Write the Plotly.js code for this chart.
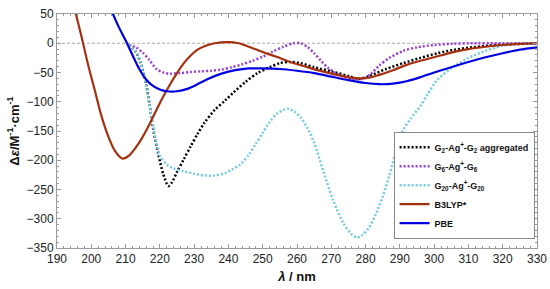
<!DOCTYPE html>
<html>
<head>
<meta charset="utf-8">
<script src="https://cdn.plot.ly/plotly-3.0.1.min.js"></script>
<style>
  html, body { margin: 0; padding: 0; background: #fff; }
  #chart { width: 550px; height: 289px; }
</style>
</head>
<body>
<div id="chart"></div>
<script>
// wavelengths (nm) and delta-epsilon values
const g2X = [211, 213, 214.5, 216, 217, 218, 219.5, 221, 222.5, 223.5, 225, 227, 229, 231, 233, 236, 239, 241.5, 245, 248.5, 252, 255, 258, 261, 265, 270, 275, 278, 281, 286, 291, 296, 301, 306, 311, 316, 321, 326, 330];
const g2Y = [-3, -15, -35, -70, -105, -145, -188, -224, -244, -238, -220, -198, -176, -155, -136, -114, -98, -84, -66, -51, -41, -34, -32, -34, -41, -48, -56, -61, -56, -44, -34, -25, -17, -11, -7, -4, -2, -1, 0];

const g6X = [211, 213, 215, 217, 219, 221, 223, 226, 229, 232, 235, 238, 241, 244, 247, 250, 253, 256, 259, 261, 263, 265, 267, 269, 271, 273, 276, 278, 280, 282, 284, 287, 291, 295, 300, 305, 310, 320, 330];
const g6Y = [-3, -7, -16, -29, -44, -50, -52, -51, -49, -48, -47, -45, -41, -36, -30, -23, -14, -6, 0, 0, -6, -17, -30, -42, -50, -56, -61, -62, -59, -50, -38, -25, -13, -7, -3, -1, 0, 0, 0];

const g20X = [211, 213, 215, 216.5, 218, 219, 220, 222, 224, 227, 230, 233, 236, 239, 241, 243.5, 246, 248, 250, 252, 254, 256, 257.5, 259, 261, 263, 265, 267.5, 270.5, 273.5, 276, 277.5, 279, 281, 283, 285, 287, 289, 291, 293, 296, 298, 301, 305, 310, 315, 320, 325, 330];
const g20Y = [-3, -14, -45, -90, -140, -172, -192, -207, -214, -219, -223, -226, -226, -222, -216, -207, -190, -172, -153, -135, -121, -114, -112, -116, -126, -145, -170, -215, -268, -307, -327, -332, -328, -315, -292, -262, -225, -182, -148, -130, -107, -88, -62, -43, -25, -13, -4, -1, 0];

const b3lypX = [195, 197, 199, 201, 203, 205, 207, 209, 211, 213, 215, 217, 219, 221, 223, 225, 227, 229, 231, 233, 236, 240, 243, 246, 250, 254, 258, 262, 266, 270, 274, 278, 281, 284, 288, 292, 296, 300, 305, 310, 315, 320, 325, 330];
const b3lypY = [62, 15, -35, -80, -125, -160, -185, -197, -192, -178, -160, -138, -114, -91, -70, -51, -34, -21, -11, -5, 0, 2, 0, -6, -15, -23, -32, -39, -46, -52, -57, -60, -59, -54, -46, -37, -30, -24, -16, -10, -6, -3, -1, 0];

const pbeX = [205.5, 208, 210, 212, 214, 216, 218, 220, 222, 225, 228, 231, 234, 238, 242, 246, 250, 255, 260, 265, 270, 275, 280, 284, 288, 292, 296, 300, 305, 310, 315, 320, 325, 330];
const pbeY = [61, 28, 5, -20, -44, -62, -73, -79, -82, -82, -78, -70, -61, -52, -46, -43, -43, -44, -47, -51, -57, -63, -68, -70, -69, -65, -58, -50, -41, -32, -24, -17, -11, -7];

const seriesNames = [
    '<b>G<sub>2</sub>-Ag<sup>+</sup>-G<sub>2</sub> aggregated</b>',
    '<b>G<sub>6</sub>-Ag<sup>+</sup>-G<sub>6</sub></b>',
    '<b>G<sub>20</sub>-Ag<sup>+</sup>-G<sub>20</sub></b>',
    '<b>B3LYP*</b>',
    '<b>PBE</b>'
];

const FONT = 'Liberation Sans, Arial, sans-serif';

function curve(x, y, name, color, dotted) {
    return {
        x: x,
        y: y,
        name: name,
        type: 'scatter',
        mode: 'lines',
        line: {
            color: color,
            width: dotted ? 2.5 : 2.2,
            dash: dotted ? '2px,2px' : 'solid',
            shape: 'spline',
            smoothing: 0.8
        },
        hoverinfo: 'skip'
    };
}

let traces = [
    curve(g2X, g2Y, seriesNames[0], '#000000', true),
    curve(g6X, g6Y, seriesNames[1], '#9a3fd6', true),
    curve(g20X, g20Y, seriesNames[2], '#72cbe3', true),
    curve(b3lypX, b3lypY, seriesNames[3], '#a5300f', false),
    curve(pbeX, pbeY, seriesNames[4], '#0000e0', false)
];

let axisCommon = {
    showline: true,
    linecolor: '#9a9a9a',
    linewidth: 1,
    mirror: 'ticks',
    ticks: 'inside',
    ticklen: 4,
    tickcolor: '#9a9a9a',
    showgrid: false,
    zeroline: false,
    tickfont: {family: FONT, size: 12, color: '#222'},
};

let layout = {
    width: 550,
    height: 289,
    margin: {l: 57, r: 13, t: 14, b: 41},
    paper_bgcolor: '#fff',
    plot_bgcolor: '#fff',
    showlegend: true,
    font: {family: FONT, color: '#111'},
    xaxis: Object.assign({}, axisCommon, {
        range: [190, 330],
        dtick: 10,
        tick0: 190,
        minor: {ticks: 'inside', ticklen: 2, dtick: 2, tickcolor: '#9a9a9a'},
        title: {
            text: '<b><i>λ</i> / nm</b>',
            font: {family: FONT, size: 13, color: '#111'},
            standoff: 6
        }
    }),
    yaxis: Object.assign({}, axisCommon, {
        range: [-350, 50],
        dtick: 50,
        minor: {ticks: 'inside', ticklen: 2, dtick: 10, tickcolor: '#9a9a9a'},
        title: {
            text: '<b>Δ<i>ε</i>/M<sup>-1</sup>·cm<sup>-1</sup></b>',
            font: {family: FONT, size: 13, color: '#111'},
            standoff: 4
        }
    }),
    legend: {
        x: 0.995,
        y: 0.04,
        xanchor: 'right',
        yanchor: 'bottom',
        bgcolor: '#fff',
        bordercolor: '#888',
        borderwidth: 1,
        itemwidth: 30,
        tracegroupgap: 0,
        font: {family: FONT, size: 9, color: '#111'}
    },
    shapes: [{
        type: 'line',
        xref: 'paper',
        x0: 0,
        x1: 1,
        yref: 'y',
        y0: 0,
        y1: 0,
        line: {color: '#aaaaaa', width: 1, dash: '3px,2px'},
        layer: 'below'
    }]
};

let config = {staticPlot: true, displayModeBar: false};

Plotly.newPlot('chart', traces, layout, config);
</script>
</body>
</html>
